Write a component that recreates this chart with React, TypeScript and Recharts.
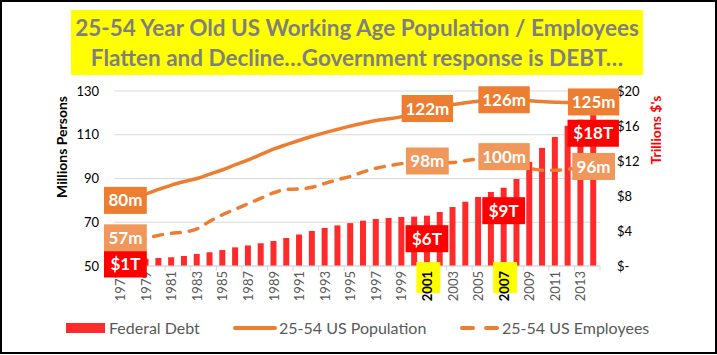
import React from 'react';
import { ComposedChart, Bar, Line, XAxis, YAxis, CartesianGrid, LabelList } from 'recharts';

// Data
const YEARS = [
    '1977', '1978', '1979', '1980', '1981', '1982', '1983', '1984', '1985', '1986',
    '1987', '1988', '1989', '1990', '1991', '1992', '1993', '1994', '1995', '1996',
    '1997', '1998', '1999', '2000', '2001', '2002', '2003', '2004', '2005', '2006',
    '2007', '2008', '2009', '2010', '2011', '2012', '2013', '2014'
];

// Trillions $
const FEDERAL_DEBT = [
    0.71, 0.78, 0.83, 0.91, 1.0, 1.14, 1.37, 1.57, 1.82, 2.13,
    2.35, 2.6, 2.86, 3.2, 3.6, 4.0, 4.35, 4.64, 4.9, 5.18,
    5.37, 5.49, 5.6, 5.64, 5.75, 6.17, 6.74, 7.35, 7.89, 8.46,
    8.95, 9.94, 11.9, 13.5, 14.74, 16.03, 16.72, 17.8
];

// Millions of persons, 25-54
const POPULATION = [
    80, 81.5, 83, 85, 87, 88.6, 90, 92, 94, 96.3,
    98.5, 101, 103.5, 105.5, 107.5, 109.3, 111, 112.5, 114, 115.3,
    116.5, 117.3, 118.3, 119.8, 122, 123, 123.8, 124.6, 125.3, 125.8,
    126, 125.8, 125.5, 125.2, 124.9, 124.7, 124.8, 125
];

const EMPLOYEES = [
    57.4, 60.5, 62.5, 64, 65, 65.5, 67, 70.5, 73.5, 76,
    78.5, 81, 83.5, 85, 85.2, 86, 87.8, 89.5, 91, 93,
    94.7, 95.8, 96.8, 97.5, 98, 97.2, 97.3, 98.2, 99, 99.8,
    100, 97.5, 94.8, 93.8, 93.8, 94.3, 94.8, 95.5
];

const LABELED_YEARS = ['1977', '2001', '2007', '2014'];
const HIGHLIGHT_YEARS = ['2001', '2007'];
const LEFT_TICKS = [50, 70, 90, 110, 130];
const RIGHT_TICKS = [0, 4, 8, 12, 16, 20];

const COLORS = {
    debt: '#ff2a2a',
    debtLabel: '#ff0000',
    pop: '#ed7d31',
    emp: '#ed7d31',
    empLabel: '#f0975c',
    grid: '#d9d9d9',
    text: '#595959'
};

const FONT = 'Lato, "Open Sans", sans-serif';
const PLOT_LEFT = 114;

const data = YEARS.map((year, i) => ({
    year,
    debt: FEDERAL_DEBT[i],
    pop: POPULATION[i],
    emp: EMPLOYEES[i]
}));

const Box = ({ cx, cy, text, fill }: { cx: number; cy: number; text: string; fill: string }) => {
    const w = text.length * 8.6 + 17;
    const h = 27;
    const left = Math.max(cx - w / 2, PLOT_LEFT - 10);
    return (
        <g>
            <rect x={left} y={cy - h / 2} width={w} height={h} fill={fill} />
            <text
                x={left + w / 2}
                y={cy}
                dy="0.36em"
                textAnchor="middle"
                fill="#fff"
                fontFamily={FONT}
                fontWeight={700}
                fontSize={17}
            >
                {text}
            </text>
        </g>
    );
};

const pointLabel = (fill: string, firstDy = 0) => (props: any) => {
    const { x, y, value, index } = props;
    if (!LABELED_YEARS.includes(YEARS[index])) return null;
    // Excel nudged the first employees label up, clear of the $1T box
    const dy = index === 0 ? firstDy : 0;
    return <Box cx={x} cy={y + dy} text={`${Math.round(value)}m`} fill={fill} />;
};

const barLabel = (props: any) => {
    const { x, y, width, height, value, index } = props;
    if (!LABELED_YEARS.includes(YEARS[index])) return null;
    const cy = Math.min(y + 23, y + height - 2);
    return <Box cx={x + width / 2} cy={cy} text={`$${Math.round(value)}T`} fill={COLORS.debtLabel} />;
};

const XTick = (props: any) => {
    const { x, y, payload } = props;
    const half = payload.offset || 6.4;
    const idx = YEARS.indexOf(payload.value);
    const hl = HIGHLIGHT_YEARS.includes(payload.value);
    return (
        <g>
            <line x1={x - half} x2={x - half} y1={y} y2={y + 5} stroke={COLORS.grid} />
            {idx + 2 >= YEARS.length && (
                <line x1={x + 3 * half} x2={x + 3 * half} y1={y} y2={y + 5} stroke={COLORS.grid} />
            )}
            {hl && <rect x={x - 11} y={y - 4} width={24} height={31} fill="#ffff00" />}
            <text
                x={x}
                y={y + 5}
                dy="0.36em"
                textAnchor="end"
                transform={`rotate(-90, ${x}, ${y + 5})`}
                fill={hl ? '#000' : COLORS.text}
                fontWeight={hl ? 700 : 400}
                fontFamily={FONT}
                fontSize={13}
            >
                {payload.value}
            </text>
        </g>
    );
};

const legendText: React.CSSProperties = {
    position: 'absolute',
    top: 318,
    fontSize: 16,
    lineHeight: '20px',
    color: COLORS.text,
    whiteSpace: 'nowrap'
};

export default function App() {
    return (
        <div style={{ position: 'absolute', left: 0, top: 0, width: 717, height: 355, background: '#fff', fontFamily: FONT }}>
            <div
                style={{
                    position: 'absolute',
                    left: 71,
                    top: 10,
                    width: 572,
                    height: 65,
                    background: '#ffff00',
                    color: '#7f7f7f',
                    fontWeight: 700,
                    fontSize: 22.5,
                    lineHeight: '30px',
                    textAlign: 'center',
                    paddingTop: 3,
                    boxSizing: 'border-box',
                    whiteSpace: 'nowrap'
                }}
            >
                <div>25-54 Year Old US Working Age Population / Employees</div>
                <div>Flatten and Decline…Government response is DEBT…</div>
            </div>

            <div style={{ position: 'absolute', left: 0, top: 0 }}>
                <ComposedChart
                    width={717}
                    height={354}
                    data={data}
                    margin={{ top: 91, right: 0, bottom: 0, left: 0 }}
                >
                    <CartesianGrid yAxisId="left" vertical={false} stroke={COLORS.grid} />
                    <XAxis
                        dataKey="year"
                        interval={1}
                        height={88}
                        tickSize={0}
                        tickMargin={0}
                        tickLine={false}
                        axisLine={{ stroke: COLORS.grid }}
                        tick={<XTick />}
                    />
                    <YAxis
                        yAxisId="left"
                        width={PLOT_LEFT}
                        domain={[50, 130]}
                        ticks={LEFT_TICKS}
                        axisLine={false}
                        tickLine={false}
                        tickMargin={9}
                        tick={{ fill: '#000', fontSize: 13, fontFamily: FONT }}
                    />
                    <YAxis
                        yAxisId="right"
                        orientation="right"
                        width={117}
                        domain={[0, 20]}
                        ticks={RIGHT_TICKS}
                        axisLine={false}
                        tickLine={false}
                        tickMargin={11}
                        tickFormatter={(v: number) => (v === 0 ? '$-' : `$${v}`)}
                        tick={{ fill: '#000', fontSize: 13, fontFamily: FONT, textAnchor: 'start' }}
                    />
                    <Bar yAxisId="right" dataKey="debt" fill={COLORS.debt} barSize={6} isAnimationActive={false}>
                        <LabelList dataKey="debt" content={barLabel} />
                    </Bar>
                    <Line
                        yAxisId="left"
                        type="monotone"
                        dataKey="pop"
                        stroke={COLORS.pop}
                        strokeWidth={3.5}
                        dot={false}
                        isAnimationActive={false}
                    >
                        <LabelList dataKey="pop" content={pointLabel(COLORS.pop)} />
                    </Line>
                    <Line
                        yAxisId="left"
                        type="monotone"
                        dataKey="emp"
                        stroke={COLORS.emp}
                        strokeWidth={3.5}
                        strokeDasharray="9 9"
                        strokeLinecap="round"
                        dot={false}
                        isAnimationActive={false}
                    >
                        <LabelList dataKey="emp" content={pointLabel(COLORS.empLabel, -12)} />
                    </Line>
                </ComposedChart>
            </div>

            <div
                style={{
                    position: 'absolute',
                    left: 61,
                    top: 147,
                    transform: 'translate(-50%, -50%) rotate(-90deg)',
                    whiteSpace: 'nowrap',
                    fontWeight: 700,
                    fontSize: 14,
                    color: '#000'
                }}
            >
                Millions Persons
            </div>
            <div
                style={{
                    position: 'absolute',
                    left: 655,
                    top: 130,
                    transform: 'translate(-50%, -50%) rotate(-90deg)',
                    whiteSpace: 'nowrap',
                    fontWeight: 700,
                    fontSize: 14,
                    color: '#ff0000'
                }}
            >
                Trillions $'s
            </div>

            {/* Legend */}
            <svg width={717} height={20} style={{ position: 'absolute', left: 0, top: 318 }}>
                <rect x={66} y={5} width={39} height={10} fill={COLORS.debt} />
                <line x1={235} x2={275} y1={10} y2={10} stroke={COLORS.pop} strokeWidth={4} strokeLinecap="round" />
                <g stroke={COLORS.emp} strokeWidth={4} strokeLinecap="round">
                    <line x1={462} x2={473} y1={10} y2={10} />
                    <line x1={486} x2={497} y1={10} y2={10} />
                </g>
            </svg>
            <div style={{ ...legendText, left: 109 }}>Federal Debt</div>
            <div style={{ ...legendText, left: 279 }}>25-54 US Population</div>
            <div style={{ ...legendText, left: 502 }}>25-54 US Employees</div>

            <div
                style={{
                    position: 'absolute',
                    left: 0,
                    top: 0,
                    width: 717,
                    height: 354,
                    border: '2px solid #000',
                    boxSizing: 'border-box',
                    pointerEvents: 'none'
                }}
            />
        </div>
    );
}
